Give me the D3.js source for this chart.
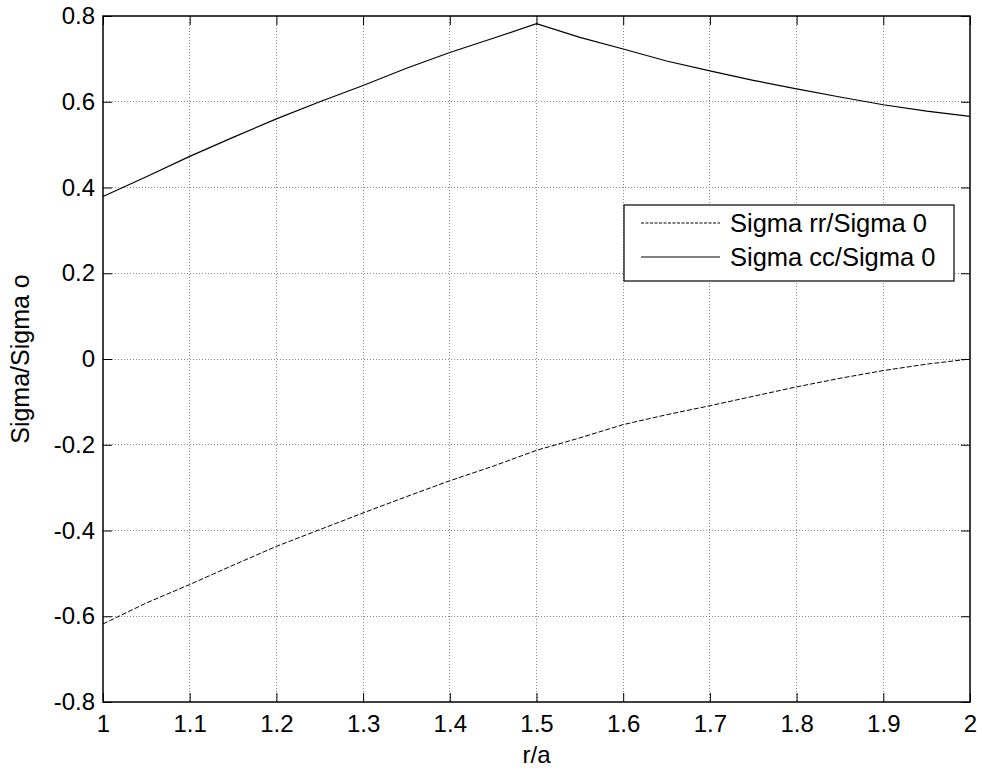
<!DOCTYPE html>
<html lang="en">
  <head>
    <meta charset="utf-8">
    <title>Sigma / Sigma o</title>
    <script src="https://d3js.org/d3.v7.min.js"></script>
    <style>
      body { margin: 0; background: #fff; }
      text { font-family: Arial, "Liberation Sans", sans-serif; }
    </style>
  </head>

  <body>
  <script>

  // r/a positions, every 0.05
  var ra = [1.00, 1.05, 1.10, 1.15, 1.20, 1.25, 1.30, 1.35, 1.40, 1.45, 1.50,
            1.55, 1.60, 1.65, 1.70, 1.75, 1.80, 1.85, 1.90, 1.95, 2.00];

  // Sigma rr / Sigma 0 (dashed)
  var sigmaRR = [-0.618, -0.569, -0.526, -0.481, -0.437, -0.398, -0.359, -0.321, -0.284, -0.250, -0.213,
                 -0.184, -0.153, -0.130, -0.109, -0.087, -0.065, -0.045, -0.027, -0.012, 0.000];

  // Sigma cc / Sigma 0 (solid)
  var sigmaCC = [0.379, 0.425, 0.4725, 0.517, 0.560, 0.600, 0.638, 0.678, 0.715, 0.748, 0.782,
                 0.750, 0.723, 0.695, 0.672, 0.650, 0.630, 0.611, 0.593, 0.578, 0.566];

  var xTicks = [1, 1.1, 1.2, 1.3, 1.4, 1.5, 1.6, 1.7, 1.8, 1.9, 2];
  var yTicks = [-0.8, -0.6, -0.4, -0.2, 0, 0.2, 0.4, 0.6, 0.8];
  var seriesNames = ["Sigma rr/Sigma 0", "Sigma cc/Sigma 0"];

  var w = 982;
  var h = 773;
  var margin = {top: 16, right: 12, bottom: 71, left: 103};
  var innerWidth = w - margin.left - margin.right;
  var innerHeight = h - margin.top - margin.bottom;
  var fontSize = 24;

  var svg = d3.select("body")
    .append("svg")
    .attr("width", w)
    .attr("height", h);

  var g = svg.append("g")
    .attr("transform", `translate(${margin.left},${margin.top})`);

  var xScale = d3.scaleLinear().domain([1, 2]).range([0, innerWidth]);
  var yScale = d3.scaleLinear().domain([-0.8, 0.8]).range([innerHeight, 0]);

  // dotted grid
  g.selectAll(".vgrid").data(xTicks.slice(1, -1)).enter().append("line")
    .attr("x1", d => xScale(d)).attr("x2", d => xScale(d))
    .attr("y1", 0).attr("y2", innerHeight)
    .attr("stroke", "#888").attr("stroke-width", 1)
    .attr("stroke-dasharray", "1,2")
    .attr("shape-rendering", "crispEdges");

  g.selectAll(".hgrid").data(yTicks.slice(1, -1)).enter().append("line")
    .attr("y1", d => yScale(d)).attr("y2", d => yScale(d))
    .attr("x1", 0).attr("x2", innerWidth)
    .attr("stroke", "#888").attr("stroke-width", 1)
    .attr("stroke-dasharray", "1,2")
    .attr("shape-rendering", "crispEdges");

  // axes, ticks pointing inward on all four sides
  var tickLen = 9;
  var fmt = d => String(d);

  var xBottom = g.append("g")
    .attr("transform", `translate(0,${innerHeight})`)
    .call(d3.axisBottom(xScale).tickValues(xTicks).tickFormat(fmt).tickSizeInner(-tickLen).tickSizeOuter(0).tickPadding(13));
  var xTop = g.append("g")
    .call(d3.axisTop(xScale).tickValues(xTicks).tickSizeInner(-tickLen).tickSizeOuter(0));
  var yLeft = g.append("g")
    .call(d3.axisLeft(yScale).tickValues(yTicks).tickFormat(fmt).tickSizeInner(-tickLen).tickSizeOuter(0).tickPadding(8));
  var yRight = g.append("g")
    .attr("transform", `translate(${innerWidth},0)`)
    .call(d3.axisRight(yScale).tickValues(yTicks).tickSizeInner(-tickLen).tickSizeOuter(0));

  // top and right axes carry ticks only
  xTop.selectAll("text").remove();
  yRight.selectAll("text").remove();

  [xBottom, xTop, yLeft, yRight].forEach(function(a) {
    a.attr("font-size", fontSize);
    a.select(".domain").remove();
    a.selectAll("line").attr("stroke", "#000");
    a.selectAll("text").attr("font-size", fontSize).attr("fill", "#000")
      .style("font-family", "Arial, 'Liberation Sans', sans-serif");
  });

  // box
  g.append("rect")
    .attr("x", 0).attr("y", 0)
    .attr("width", innerWidth).attr("height", innerHeight)
    .attr("fill", "none").attr("stroke", "#000").attr("stroke-width", 1.5);

  // lines
  var line = d3.line()
    .x(d => xScale(d[0]))
    .y(d => yScale(d[1]));

  g.append("path")
    .datum(ra.map((r, i) => [r, sigmaRR[i]]))
    .attr("d", line)
    .attr("fill", "none").attr("stroke", "#000").attr("stroke-width", 1)
    .attr("stroke-dasharray", "5,2");

  g.append("path")
    .datum(ra.map((r, i) => [r, sigmaCC[i]]))
    .attr("d", line)
    .attr("fill", "none").attr("stroke", "#000").attr("stroke-width", 1.2);

  // axis labels
  svg.append("text")
    .attr("x", margin.left + innerWidth / 2)
    .attr("y", 763)
    .attr("text-anchor", "middle")
    .attr("font-size", fontSize)
    .text("r/a");

  svg.append("text")
    .attr("transform", `translate(29,${margin.top + innerHeight / 2}) rotate(-90)`)
    .attr("text-anchor", "middle")
    .attr("font-size", 25)
    .text("Sigma/Sigma o");

  // legend
  var legend = svg.append("g").attr("transform", "translate(624,205)");
  legend.append("rect")
    .attr("x", 0).attr("y", 0)
    .attr("width", 330).attr("height", 76)
    .attr("fill", "#fff").attr("stroke", "#000").attr("stroke-width", 1.2);

  var dashes = ["3,1.5", null];
  seriesNames.forEach(function(name, i) {
    var yy = 18 + i * 34;
    legend.append("line")
      .attr("x1", 17).attr("x2", 96)
      .attr("y1", yy).attr("y2", yy)
      .attr("stroke", "#000").attr("stroke-width", 1)
      .attr("stroke-dasharray", dashes[i]);
    legend.append("text")
      .attr("x", 106).attr("y", yy + 9)
      .attr("font-size", 25.5)
      .text(name);
  });

  </script>
  </body>
</html>
